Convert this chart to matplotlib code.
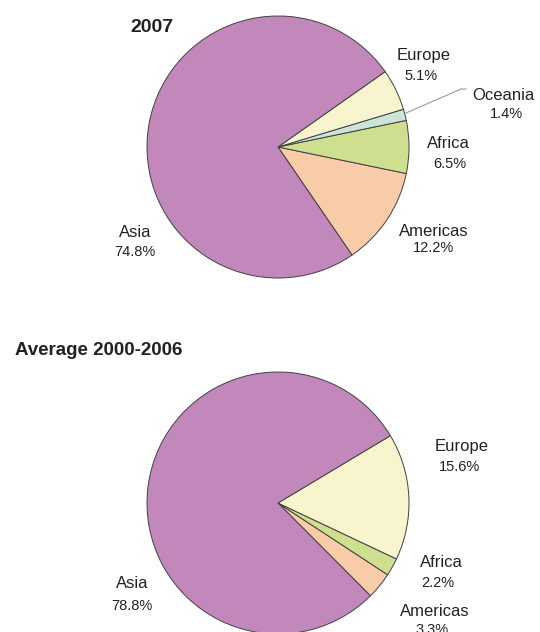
import matplotlib
matplotlib.use("Agg")
import matplotlib.pyplot as plt

# 2007 shares (%), counter-clockwise from the Americas slice
regions_2007 = ["Americas", "Africa", "Oceania", "Europe", "Asia"]
shares_2007 = [12.2, 6.5, 1.4, 5.1, 74.8]

# average 2000-2006 shares (%)
regions_avg = ["Americas", "Africa", "Europe", "Asia"]
shares_avg = [3.3, 2.2, 15.6, 78.8]

colors = {
    "Asia": "#C388BB",
    "Europe": "#F8F4CE",
    "Oceania": "#CBE5D9",
    "Africa": "#CEE08F",
    "Americas": "#F8CCA9",
}

W, H = 540, 632
plt.rcParams["font.family"] = ["Liberation Sans", "DejaVu Sans"]

fig = plt.figure(figsize=(W / 100, H / 100), dpi=100)
ax = fig.add_axes([0, 0, 1, 1])


def ty(y):
    # pixel row (from top) -> data y
    return H - y


def draw_pie(regions, shares, center, start):
    ax.pie(shares, colors=[colors[r] for r in regions], startangle=start,
           counterclock=True, radius=131, center=center,
           wedgeprops=dict(edgecolor="#404040", linewidth=0.7))


draw_pie(regions_2007, shares_2007, (278, ty(147)), -55.6)
draw_pie(regions_avg, shares_avg, (278, ty(503)), -45.1)

ax.set_xlim(0, W)
ax.set_ylim(0, H)
ax.set_aspect("equal")
ax.axis("off")


def label(name, value, x, y_name, y_val, xv=None):
    ax.text(x, ty(y_name), name, ha="center", va="baseline", fontsize=12,
            color="#222222")
    ax.text(x if xv is None else xv, ty(y_val), f"{value:.1f}%", ha="center",
            va="baseline", fontsize=10.5, color="#222222")


s07 = dict(zip(regions_2007, shares_2007))
sav = dict(zip(regions_avg, shares_avg))

label("Europe", s07["Europe"], 424, 60, 80, 421)
label("Oceania", s07["Oceania"], 503, 100, 118, 506)
label("Africa", s07["Africa"], 448, 148, 168, 450)
label("Americas", s07["Americas"], 434, 236, 252)
label("Asia", s07["Asia"], 135, 237, 256)

# leader line to the thin Oceania slice
ax.plot([406, 461, 466], [ty(113), ty(89), ty(89)], color="#999999", lw=0.8)

label("Europe", sav["Europe"], 462, 451, 471, 460)
label("Africa", sav["Africa"], 441, 567, 587, 438)
label("Americas", sav["Americas"], 435, 616, 634, 432)
label("Asia", sav["Asia"], 132, 588, 610)

ax.text(152, ty(32), "2007", ha="center", va="baseline", fontsize=14,
        fontweight="bold", color="#222222")
ax.text(15, ty(355), "Average 2000-2006", ha="left", va="baseline",
        fontsize=13.5, fontweight="bold", color="#222222")

fig.savefig("out.png", dpi=100)
